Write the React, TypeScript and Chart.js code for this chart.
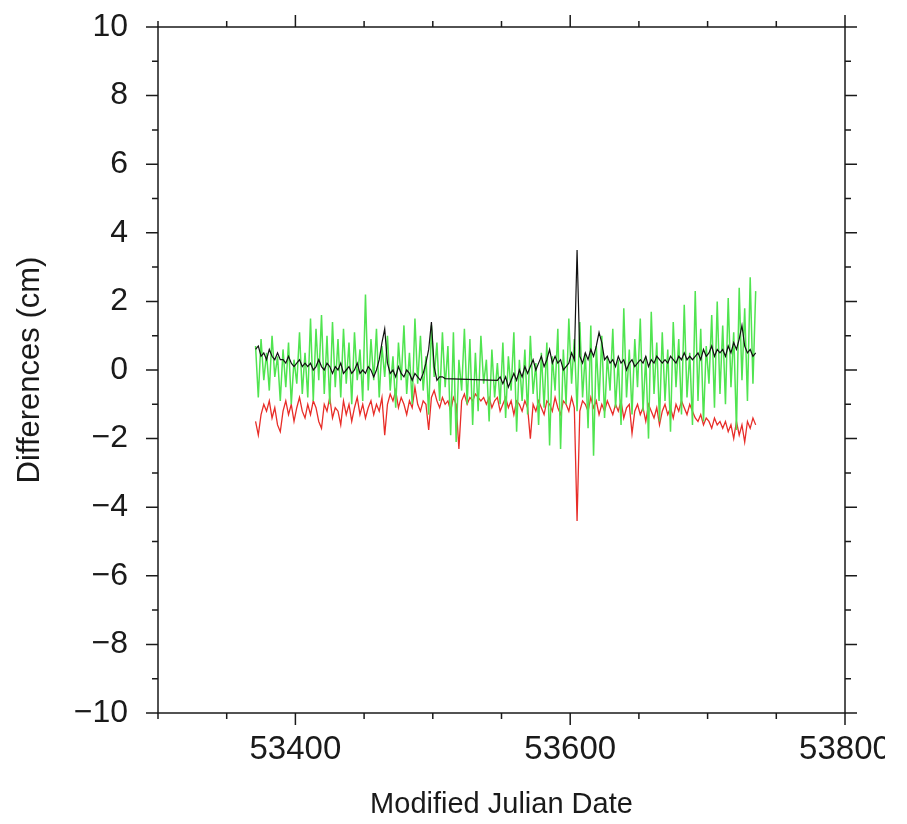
import React, { useEffect, useRef } from 'react';
import { Chart, registerables } from 'chart.js';

Chart.register(...registerables);

// Modified Julian Date sample times
const mjd = [
  53371, 53373, 53375, 53377, 53379, 53381, 53383, 53385, 53387, 53389,
  53391, 53393, 53395, 53397, 53399, 53401, 53403, 53405, 53407, 53409,
  53411, 53413, 53415, 53417, 53419, 53421, 53423, 53425, 53427, 53429,
  53431, 53433, 53435, 53437, 53439, 53441, 53443, 53445, 53447, 53449,
  53451, 53453, 53455, 53457, 53459, 53461, 53463, 53465, 53467, 53469,
  53471, 53473, 53475, 53477, 53479, 53481, 53483, 53485, 53487, 53489,
  53491, 53493, 53495, 53497, 53499, 53501, 53503, 53505, 53507, 53509,
  53511, 53513, 53515, 53517, 53519, 53521, 53523, 53525, 53527, 53529,
  53531, 53533, 53535, 53537, 53539, 53541, 53543, 53545, 53547, 53549,
  53551, 53553, 53555, 53557, 53559, 53561, 53563, 53565, 53567, 53569,
  53571, 53573, 53575, 53577, 53579, 53581, 53583, 53585, 53587, 53589,
  53591, 53593, 53595, 53597, 53599, 53601, 53603, 53605, 53607, 53609,
  53611, 53613, 53615, 53617, 53619, 53621, 53623, 53625, 53627, 53629,
  53631, 53633, 53635, 53637, 53639, 53641, 53643, 53645, 53647, 53649,
  53651, 53653, 53655, 53657, 53659, 53661, 53663, 53665, 53667, 53669,
  53671, 53673, 53675, 53677, 53679, 53681, 53683, 53685, 53687, 53689,
  53691, 53693, 53695, 53697, 53699, 53701, 53703, 53705, 53707, 53709,
  53711, 53713, 53715, 53717, 53719, 53721, 53723, 53725, 53727, 53729,
  53731, 53733, 53735,
];

// Black series (cm)
const blackSeries: (number | null)[] = [
  0.6, 0.7, 0.4, 0.5, 0.3, 0.6, 0.4, 0.3, 0.5, 0.3,
  0.3, 0.2, 0.4, 0.2, 0.1, 0.2, 0.3, 0.1, 0.2, 0.1,
  0.2, 0.0, 0.1, 0.3, 0.1, 0.0, 0.2, 0.1, -0.1, 0.1,
  0.0, 0.2, -0.1, 0.0, 0.1, -0.1, 0.0, 0.2, -0.1, 0.0,
  -0.1, 0.1, 0.0, -0.2, 0.0, 0.3, 0.8, 1.2, 0.2, -0.1,
  0.0, -0.2, 0.1, -0.1, -0.2, 0.0, -0.1, -0.3, -0.1, -0.2,
  -0.3, -0.1, 0.2, 0.6, 1.4, 0.1, -0.3, -0.2, -0.2, -0.25,
  null, null, null, null, null, null, null, null, null, null,
  null, null, null, null, null, null, null, null, -0.3, -0.2,
  -0.4, -0.2, -0.5, -0.3, -0.1, -0.3, 0.0, -0.2, 0.1, -0.1,
  0.1, 0.3, 0.0, 0.2, 0.4, 0.1, 0.3, 0.6, 0.2, 0.4,
  0.2, 0.3, 0.0, 0.1, 0.2, 0.5, 0.3, 3.5, 0.4, 0.2,
  0.5, 0.3, 0.6, 0.4, 0.7, 1.1, 0.8, 0.3, 0.4, 0.2,
  0.3, 0.1, 0.4, 0.2, 0.3, 0.0, 0.2, 0.3, 0.1, 0.2,
  0.3, 0.2, 0.4, 0.1, 0.3, 0.2, 0.4, 0.3, 0.2, 0.3,
  0.2, 0.4, 0.3, 0.2, 0.4, 0.3, 0.5, 0.3, 0.4, 0.3,
  0.4, 0.5, 0.3, 0.6, 0.4, 0.5, 0.7, 0.4, 0.6, 0.5,
  0.6, 0.4, 0.7, 0.5, 0.8, 0.6, 0.9, 1.3, 0.7, 0.5,
  0.6, 0.4, 0.5,
];

// Red series (cm)
const redSeries = [
  -1.5, -1.9, -1.3, -1.0, -1.2, -0.9, -1.4, -1.1, -1.6, -1.8,
  -1.2, -0.9, -1.3, -1.0, -1.5, -1.1, -0.8, -1.2, -1.4, -1.0,
  -1.3, -0.9, -1.1, -1.5, -1.7, -1.0, -1.2, -0.8, -1.4, -1.1,
  -1.2, -1.6, -0.9, -1.3, -1.0, -1.5, -1.1, -0.8, -1.3, -1.0,
  -1.4, -1.1, -0.9, -1.3, -1.0, -1.2, -0.8, -1.9, -1.0, -0.7,
  -0.9, -0.6, -1.1, -0.8, -1.0, -1.3, -0.9, -1.1, -0.5, -1.0,
  -1.2, -0.9, -1.0, -1.75, -0.8, -0.6, -0.9, -1.1, -0.8, -1.0,
  -0.9, -1.2, -0.8, -1.0, -2.3, -0.9, -0.7, -1.0, -0.8, -0.9,
  -0.7, -0.8, -0.9, -0.8, -1.0, -0.8, -1.1, -0.9, -0.8, -1.2,
  -1.0, -0.8, -1.1, -0.9, -1.3, -0.9, -1.0, -1.2, -0.9, -1.1,
  -2.0, -1.0, -1.2, -0.9, -1.1, -1.3, -0.9, -1.0, -1.2, -0.8,
  -1.1, -1.3, -0.9, -1.0, -1.2, -0.8, -1.1, -4.4, -1.2, -0.9,
  -1.0, -1.2, -0.8, -1.1, -0.9, -1.3, -1.0, -1.2, -0.9, -1.1,
  -1.3, -1.0, -1.2, -0.9, -1.4, -1.1, -1.0, -1.85, -1.2, -1.0,
  -1.3, -1.1, -1.5, -1.0, -1.2, -1.4, -1.1, -1.6, -1.2, -1.0,
  -1.3, -1.1, -1.4, -1.0, -1.2, -0.9, -1.1, -1.3, -1.0, -1.2,
  -1.4, -1.5, -1.3, -1.6, -1.4, -1.5, -1.7, -1.4, -1.6, -1.5,
  -1.7, -1.5, -1.8, -1.6, -2.0, -1.5, -1.9, -1.6, -2.1, -1.5,
  -1.7, -1.4, -1.6,
];

// Green series (cm)
const greenSeries = [
  0.7, -0.8, 0.9, -0.3, 0.5, -0.6, 1.0, -0.2, 0.4, -0.9,
  0.6, -0.5, 0.8, -1.0, 0.3, -0.4, 1.1, -0.7, 0.5, -0.8,
  1.5, -0.9, 1.2, -0.3, 1.6, -0.7, 1.0, -1.0, 1.4, -0.5,
  0.9, -0.8, 1.2, -0.4, 0.8, -1.0, 1.1, -0.3, 0.6, -0.9,
  2.2, -0.6, 0.9, -0.3, 1.2, -0.8, 0.7, -0.2, 1.0, -0.6,
  0.4, -1.1, 0.8, -0.3, 1.3, -0.7, 0.5, -1.0, 1.5, -0.4,
  1.0, -0.6, 0.4, -1.3, 1.3, -0.2, 0.8, -0.9, 1.1, -0.5,
  0.7, -1.9, 1.1, -2.1, 0.3, -0.6, 1.2, -1.0, 0.9, -1.6,
  0.5, -1.2, 1.0, -0.4, 0.3, -1.5, 0.6, -0.8, 0.2, -1.0,
  0.8, -1.4, 0.4, -0.6, 1.1, -1.8, 0.3, -0.9, 0.6, -1.3,
  1.0, -0.7, 0.2, -1.6, 0.5, -1.1, 0.8, -2.2, 0.4, -0.6,
  1.2, -2.3, 0.6, -1.0, 1.5, -0.4, 0.9, -1.2, 1.4, -0.8,
  0.5, -1.7, 1.3, -2.5, 0.7, -0.9, 1.0, -1.4, 0.4, -0.6,
  1.2, -1.1, 0.3, -1.6, 1.8, -0.8, 0.6, -1.3, 0.9, -0.5,
  1.5, -1.2, 0.4, -2.0, 1.7, -0.7, 0.8, -1.5, 1.1, -0.9,
  0.6, -1.8, 1.4, -0.5, 0.9, -1.3, 1.9, -0.8, 0.5, -1.6,
  2.3, -0.9, 1.2, -1.5, 0.7, -0.4, 1.6, -1.1, 2.0, -0.7,
  1.3, -1.0, 2.1, -0.5, 1.1, -1.75, 2.4, -0.3, 1.8, -0.9,
  2.7, -0.4, 2.3,
];

const xTickValues = [53300, 53350, 53400, 53450, 53500, 53550, 53600, 53650, 53700, 53750, 53800];
const xLabelValues = [53400, 53600, 53800];
const yTickValues = [-10, -9, -8, -7, -6, -5, -4, -3, -2, -1, 0, 1, 2, 3, 4, 5, 6, 7, 8, 9, 10];
const yLabelValues = [-10, -8, -6, -4, -2, 0, 2, 4, 6, 8, 10];

const FONT = '"Liberation Sans", Arial, Helvetica, sans-serif';
const INK = '#1a1a1a';

const frameTicksPlugin = {
  id: 'frameTicks',
  afterDraw(chart: any) {
    const { ctx, chartArea: a, scales } = chart;
    ctx.save();
    ctx.strokeStyle = INK;
    ctx.lineWidth = 1.5;
    ctx.strokeRect(a.left, a.top, a.right - a.left, a.bottom - a.top);
    ctx.beginPath();
    for (const v of xTickValues) {
      const px = scales.x.getPixelForValue(v);
      const len = xLabelValues.includes(v) ? 12 : 6;
      ctx.moveTo(px, a.bottom);
      ctx.lineTo(px, a.bottom + len);
      ctx.moveTo(px, a.top);
      ctx.lineTo(px, a.top - len);
    }
    for (const v of yTickValues) {
      const py = scales.y.getPixelForValue(v);
      const len = yLabelValues.includes(v) ? 12 : 6;
      ctx.moveTo(a.left, py);
      ctx.lineTo(a.left - len, py);
      ctx.moveTo(a.right, py);
      ctx.lineTo(a.right + len, py);
    }
    ctx.stroke();
    ctx.restore();
  },
};

function toPoints(values: (number | null)[]) {
  return mjd.map((x, i) => ({ x, y: values[i] }));
}

export default function App() {
  const canvasRef = useRef<HTMLCanvasElement | null>(null);

  useEffect(() => {
    const canvas = canvasRef.current;
    if (!canvas) return;
    const chart = new Chart(canvas, {
      type: 'line',
      data: {
        datasets: [
          {
            label: 'black',
            data: toPoints(blackSeries) as any,
            borderColor: '#111111',
            borderWidth: 1.2,
            pointRadius: 0,
            spanGaps: true,
            tension: 0,
            order: 1,
          },
          {
            label: 'green',
            data: toPoints(greenSeries) as any,
            borderColor: 'rgb(80, 228, 80)',
            borderWidth: 1.5,
            pointRadius: 0,
            tension: 0,
            order: 2,
          },
          {
            label: 'red',
            data: toPoints(redSeries) as any,
            borderColor: 'rgb(232, 45, 40)',
            borderWidth: 1.3,
            pointRadius: 0,
            tension: 0,
            order: 3,
          },
        ],
      },
      plugins: [frameTicksPlugin],
      options: {
        animation: false,
        responsive: false,
        devicePixelRatio: 1,
        layout: { padding: { top: 27, right: 40, left: 0, bottom: 0 } },
        plugins: {
          legend: { display: false },
          tooltip: { enabled: false },
        },
        scales: {
          x: {
            type: 'linear',
            min: 53300,
            max: 53800,
            afterBuildTicks: (scale: any) => {
              scale.ticks = xTickValues.map((value) => ({ value }));
            },
            afterFit: (scale: any) => {
              scale.height = 111;
              scale.paddingLeft = 0;
              scale.paddingRight = 0;
            },
            grid: { display: false, drawTicks: false },
            border: { display: false },
            ticks: {
              autoSkip: false,
              maxRotation: 0,
              padding: 17,
              color: INK,
              font: { family: FONT, size: 33 },
              callback: (value: any) => (xLabelValues.includes(Number(value)) ? String(value) : ''),
            },
            title: {
              display: true,
              text: 'Modified Julian Date',
              color: INK,
              font: { family: FONT, size: 29 },
              padding: { top: 0, bottom: 2 },
            },
          },
          y: {
            type: 'linear',
            min: -10,
            max: 10,
            afterBuildTicks: (scale: any) => {
              scale.ticks = yTickValues.map((value) => ({ value }));
            },
            afterFit: (scale: any) => {
              scale.width = 158;
              scale.paddingTop = 0;
              scale.paddingBottom = 0;
            },
            grid: { display: false, drawTicks: false },
            border: { display: false },
            ticks: {
              autoSkip: false,
              padding: 30,
              color: INK,
              font: { family: FONT, size: 32 },
              callback: (value: any) => {
                const v = Number(value);
                if (!yLabelValues.includes(v)) return '';
                return v < 0 ? '\u2212' + Math.abs(v) : String(v);
              },
            },
            title: {
              display: true,
              text: 'Differences (cm)',
              color: INK,
              font: { family: FONT, size: 31 },
              padding: { top: 12, bottom: 0 },
            },
          },
        },
      },
    });
    return () => chart.destroy();
  }, []);

  return (
    <div style={{ position: 'absolute', left: 0, top: 0, width: 907, height: 824, background: '#fff' }}>
      <canvas ref={canvasRef} width={885} height={824} style={{ display: 'block' }} />
    </div>
  );
}
